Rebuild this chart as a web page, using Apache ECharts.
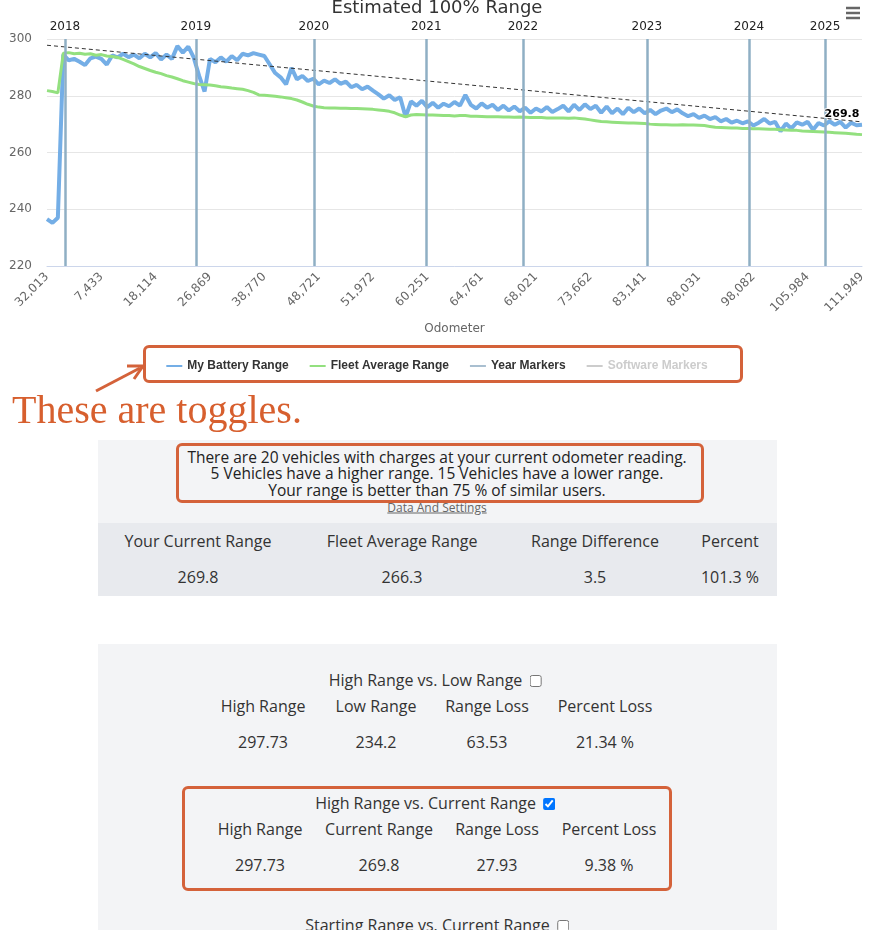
<!DOCTYPE html>
<html>
<head>
<meta charset="utf-8">
<title>Estimated 100% Range</title>
<script src="https://cdn.jsdelivr.net/npm/echarts@6.0.0/dist/echarts.min.js"></script>
<style>
  html, body { margin: 0; padding: 0; background: #fff; }
  body { width: 874px; height: 930px; position: relative; overflow: hidden; font-family: "Open Sans", sans-serif; color: #333; }
  #chart { position: absolute; left: 0; top: 0; width: 874px; height: 390px; }
  .ann { position: absolute; border: 3px solid #d4623a; border-radius: 6px; box-sizing: border-box; pointer-events: none; }
  .panel { position: absolute; left: 98px; width: 679px; background: #f3f4f6; }
  .c { position: absolute; transform: translate(-50%, -50%); white-space: nowrap; font-size: 16px; color: #333; }
  .note { font-size: 15.5px; color: #222; }
  .c input { width: 12px; height: 12px; margin: 0 0 0 7px; vertical-align: -1px; }
</style>
</head>
<body>
<div id="chart"></div>

<!-- annotations over the chart -->
<div class="ann" style="left:143px; top:345px; width:600px; height:38px;"></div>
<svg style="position:absolute; left:0; top:0; pointer-events:none;" width="874" height="440">
  <line x1="96" y1="391" x2="140" y2="368" stroke="#d4623a" stroke-width="3"/>
  <polyline points="127,366 143,366 134,379" fill="none" stroke="#d4623a" stroke-width="3"/>
</svg>
<div style="position:absolute; left:12px; top:388px; font-family:'Liberation Serif', serif; font-size:40px; line-height:44px; color:#d75f2e;">These are toggles.</div>

<!-- summary panel -->
<div class="panel" style="top:440px; height:156px;"></div>
<div class="panel" style="top:523px; height:73px; background:#e8eaee;"></div>
<div class="c note" style="left:437px; top:457px;">There are 20 vehicles with charges at your current odometer reading.</div>
<div class="c note" style="left:437px; top:473px;">5 Vehicles have a higher range. 15 Vehicles have a lower range.</div>
<div class="c note" style="left:437px; top:490px;">Your range is better than 75 % of similar users.</div>
<div class="ann" style="left:176px; top:443px; width:528px; height:60px;"></div>
<div class="c" style="left:437px; top:507px; font-size:12px; color:#666; text-decoration:underline;">Data And Settings</div>
<div class="c" style="left:198px; top:541px;">Your Current Range</div>
<div class="c" style="left:402px; top:541px;">Fleet Average Range</div>
<div class="c" style="left:595px; top:541px;">Range Difference</div>
<div class="c" style="left:730px; top:541px;">Percent</div>
<div class="c" style="left:198px; top:577px;">269.8</div>
<div class="c" style="left:402px; top:577px;">266.3</div>
<div class="c" style="left:595px; top:577px;">3.5</div>
<div class="c" style="left:730px; top:577px;">101.3 %</div>

<!-- loss panel -->
<div class="panel" style="top:644px; height:290px;"></div>
<div class="c" style="left:435px; top:680px;">High Range vs. Low Range<input type="checkbox"></div>
<div class="c" style="left:263px; top:706px;">High Range</div>
<div class="c" style="left:376px; top:706px;">Low Range</div>
<div class="c" style="left:487px; top:706px;">Range Loss</div>
<div class="c" style="left:605px; top:706px;">Percent Loss</div>
<div class="c" style="left:263px; top:742px;">297.73</div>
<div class="c" style="left:376px; top:742px;">234.2</div>
<div class="c" style="left:487px; top:742px;">63.53</div>
<div class="c" style="left:605px; top:742px;">21.34 %</div>

<div class="ann" style="left:182px; top:786px; width:490px; height:105px;"></div>
<div class="c" style="left:435px; top:803px;">High Range vs. Current Range<input type="checkbox" checked></div>
<div class="c" style="left:260px; top:829px;">High Range</div>
<div class="c" style="left:379px; top:829px;">Current Range</div>
<div class="c" style="left:497px; top:829px;">Range Loss</div>
<div class="c" style="left:609px; top:829px;">Percent Loss</div>
<div class="c" style="left:260px; top:865px;">297.73</div>
<div class="c" style="left:379px; top:865px;">269.8</div>
<div class="c" style="left:497px; top:865px;">27.93</div>
<div class="c" style="left:609px; top:865px;">9.38 %</div>
<div class="c" style="left:437px; top:925px;">Starting Range vs. Current Range<input type="checkbox"></div>

<script>
// odometer labels shown under every 10th point
const odometerTicks = ['32,013', '7,433', '18,114', '26,869', '38,770', '48,721', '51,972', '60,251',
  '64,761', '68,021', '73,662', '83,141', '88,031', '98,082', '105,984', '111,949'];
const pointsPerTick = 10;

const myBatteryRange = [
  236.5, 235.2, 237.0, 294.5, 292.5, 293.0, 292.0, 290.8, 293.2, 293.8,
  293.0, 291.0, 294.2, 293.5, 294.8, 293.6, 294.5, 293.2, 294.8, 293.5,
  295.0, 292.8, 294.5, 293.0, 297.5, 295.2, 297.3, 293.5, 287.0, 281.5,
  293.0, 291.8, 293.5, 292.0, 294.0, 292.5, 294.8, 294.2, 295.0, 294.5,
  294.0, 291.0, 288.0, 286.5, 284.0, 289.8, 285.8, 287.0, 285.2, 286.0,
  284.0, 285.3, 284.5, 285.8, 284.2, 285.0, 283.0, 283.8, 282.3, 283.2,
  281.8, 280.5, 279.0, 280.2, 278.5, 279.5, 272.5, 278.0, 276.5, 278.2,
  276.0, 277.5, 275.8, 277.2, 276.3, 277.8, 276.5, 280.3, 276.8, 275.5,
  277.3, 275.8, 276.8, 275.0, 276.5, 274.8, 276.2, 274.5, 275.8, 274.0,
  275.5, 274.5, 276.0, 274.3, 275.3, 276.5, 274.5, 276.8, 275.0, 277.0,
  275.3, 276.5, 274.0, 276.2, 273.8, 275.5, 273.5, 275.8, 274.2, 275.5,
  273.8, 275.0, 273.5, 274.8, 275.5, 274.2, 275.2, 273.8, 272.8, 273.5,
  272.2, 273.0, 271.8, 272.5, 271.0, 271.8, 270.5, 271.2, 270.3, 271.0,
  269.5, 270.5, 271.8, 270.2, 270.8, 267.5, 270.2, 268.5, 270.6, 269.8,
  270.8, 268.0, 270.4, 269.5, 271.0, 269.8, 270.8, 268.8, 270.5, 269.6,
  269.8
];

const fleetAverageRange = [
  281.8, 281.5, 281.0, 295.0, 295.2, 294.8, 295.0, 294.6, 294.8, 294.3,
  294.5, 294.0, 293.8, 293.5, 292.8, 292.0, 291.2, 290.3, 289.6, 288.9,
  288.3, 287.8, 287.1, 286.6, 286.0, 285.3, 284.8, 284.3, 284.0, 283.9,
  283.8, 283.5, 283.2, 283.0, 282.7, 282.5, 282.3, 281.8, 281.2, 280.3,
  280.2, 280.0, 279.8, 279.6, 279.3, 279.0, 278.5, 277.8, 277.0, 276.4,
  276.0, 275.8, 275.7, 275.7, 275.6, 275.6, 275.5, 275.5, 275.4, 275.3,
  275.2, 275.0, 274.8, 274.5, 274.0, 273.2, 272.6, 273.2, 273.4, 273.3,
  273.2, 273.2, 273.1, 273.0, 273.0, 272.9, 273.0, 273.0, 272.8, 272.8,
  272.7, 272.6, 272.6, 272.6, 272.5, 272.5, 272.4, 272.5, 272.4, 272.3,
  272.3, 272.3, 272.2, 272.2, 272.2, 272.2, 272.1, 272.2, 272.0, 271.8,
  271.5, 271.2, 270.9, 270.8, 270.7, 270.6, 270.5, 270.4, 270.4, 270.3,
  270.2, 270.0, 269.9, 269.8, 269.8, 269.7, 269.7, 269.8, 269.7, 269.7,
  269.6, 269.5, 269.2, 268.9, 268.8, 268.7, 268.6, 268.6, 268.5, 268.5,
  268.4, 268.4, 268.3, 268.2, 268.2, 268.0, 267.9, 267.8, 267.8, 267.6,
  267.5, 267.4, 267.3, 267.2, 267.1, 267.0, 266.9, 266.8, 266.6, 266.4,
  266.3
];

// year change positions, in point-index units
const years = ['2018', '2019', '2020', '2021', '2022', '2023', '2024', '2025'];
const yearMarkerIdx = [3.3, 27.4, 49.1, 69.8, 87.6, 110.4, 129.2, 143.2];

const trendStart = 297.8;
const trendEnd = 270.8;
const currentRange = 269.8;

const pointIndex = myBatteryRange.map((v, i) => String(i));
const lastIdx = pointIndex.length - 1;

const chart = echarts.init(document.getElementById('chart'), null, { renderer: 'canvas' });

// hamburger menu glyph in the top right corner
const menuBars = [8, 13, 18].map(y => ({
  type: 'rect',
  silent: true,
  shape: { x: 846, y: y - 1.25, width: 14, height: 2.5 },
  style: { fill: '#666' }
}));

const option = {
  animation: false,
  title: {
    text: 'Estimated 100% Range',
    left: 'center',
    top: -1,
    padding: 0,
    textStyle: { fontFamily: 'DejaVu Sans', fontSize: 18, fontWeight: 'normal', color: '#333' }
  },
  graphic: menuBars,
  legend: {
    top: 355,
    left: 'center',
    icon: 'rect',
    itemWidth: 16,
    itemHeight: 2,
    itemGap: 21,
    inactiveColor: '#ccc',
    textStyle: { fontFamily: 'Liberation Sans', fontWeight: 'bold', fontSize: 12, color: '#333' },
    data: ['My Battery Range', 'Fleet Average Range', 'Year Markers', 'Software Markers'],
    selected: { 'Software Markers': false }
  },
  grid: { left: 47, right: 12, top: 39, bottom: 124 },
  xAxis: [
    {
      type: 'category',
      data: pointIndex,
      boundaryGap: false,
      axisLine: { lineStyle: { color: '#ccd6eb' } },
      axisTick: { show: false },
      axisLabel: {
        interval: pointsPerTick - 1,
        rotate: 45,
        margin: 9,
        fontFamily: 'DejaVu Sans',
        fontSize: 12,
        color: '#666',
        formatter: (v, i) => odometerTicks[i / pointsPerTick] || ''
      },
      name: 'Odometer',
      nameLocation: 'middle',
      nameGap: 57,
      nameTextStyle: { fontFamily: 'DejaVu Sans', fontSize: 12, color: '#666' }
    },
    { type: 'value', min: 0, max: lastIdx, show: false }
  ],
  yAxis: {
    type: 'value',
    min: 220,
    max: 300,
    interval: 20,
    axisLine: { show: false },
    axisTick: { show: false },
    axisLabel: { margin: 15, fontFamily: 'DejaVu Sans', fontSize: 12, color: '#666' },
    splitLine: { lineStyle: { color: '#e6e6e6' } }
  },
  series: [
    {
      name: 'My Battery Range',
      type: 'line',
      data: myBatteryRange,
      showSymbol: false,
      symbol: 'none',
      color: '#74aee6',
      lineStyle: { width: 4 },
      markLine: {
        silent: true,
        symbol: ['none', 'none'],
        label: { show: false },
        lineStyle: { color: '#333', width: 1, type: [4, 3] },
        data: [[{ coord: [0, trendStart] }, { coord: [lastIdx, trendEnd] }]]
      },
      markPoint: {
        silent: true,
        symbol: 'circle',
        symbolSize: 0,
        data: [{ coord: [lastIdx, currentRange], value: currentRange }],
        label: {
          show: true,
          position: 'top',
          distance: 5,
          offset: [-20, 0],
          formatter: '{c}',
          fontFamily: 'DejaVu Sans',
          fontWeight: 'bold',
          fontSize: 11,
          color: '#000',
          textBorderColor: '#fff',
          textBorderWidth: 2
        }
      }
    },
    {
      name: 'Fleet Average Range',
      type: 'line',
      data: fleetAverageRange,
      showSymbol: false,
      symbol: 'none',
      color: '#93e07f',
      lineStyle: { width: 3 }
    },
    {
      name: 'Year Markers',
      type: 'line',
      xAxisIndex: 1,
      data: [],
      color: '#a9bfd0',
      markLine: {
        silent: true,
        symbol: ['none', 'none'],
        lineStyle: { color: '#8fafc4', width: 2.5, type: 'solid' },
        label: {
          show: true,
          position: 'end',
          distance: 6,
          formatter: '{b}',
          fontFamily: 'DejaVu Sans',
          fontSize: 12,
          color: '#222'
        },
        data: years.map((y, k) => ({ name: y, xAxis: yearMarkerIdx[k] }))
      }
    },
    {
      name: 'Software Markers',
      type: 'line',
      xAxisIndex: 1,
      data: [],
      color: '#c8d0da'
    }
  ]
};

chart.setOption(option);
window.addEventListener('resize', chart.resize);
</script>
</body>
</html>
